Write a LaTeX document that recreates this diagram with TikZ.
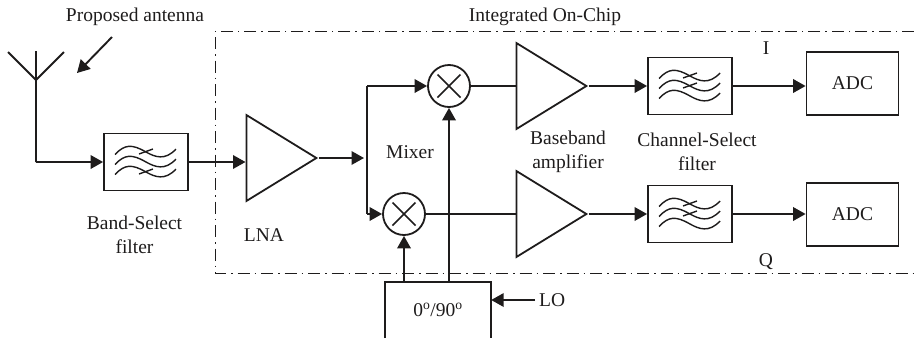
\documentclass[tikz,border=0pt]{standalone}
\usepackage{fontspec}
\setmainfont{Liberation Serif}
\usepackage{xcolor}
\usetikzlibrary{arrows.meta,shapes.geometric}
\definecolor{inkcol}{HTML}{1E1C1C}
\tikzset{
    labeltext/.style={align=center, font=\fontsize{19.5}{24}\selectfont, text=inkcol, inner sep=0pt},
    boxnode/.style={draw=inkcol, line width=1.8pt, labeltext, minimum width=#1, inner sep=0pt},
    filternode/.style={boxnode=84pt, minimum height=57pt},
    adcnode/.style={boxnode=92pt, minimum height=63pt},
    ampnode/.style={draw=inkcol, line width=1.8pt, isosceles triangle, isosceles triangle stretches, shape border rotate=0, minimum width=#1, minimum height=70pt, inner sep=0pt, anchor=lower side},
    mixnode/.style={draw=inkcol, line width=1.8pt, circle, minimum size=42pt, inner sep=0pt,
        path picture={\draw[line width=1.5pt, inkcol] ([shift={(-11.5pt,-11.5pt)}]path picture bounding box.center) -- ([shift={(11.5pt,11.5pt)}]path picture bounding box.center)
            ([shift={(-11.5pt,11.5pt)}]path picture bounding box.center) -- ([shift={(11.5pt,-11.5pt)}]path picture bounding box.center);}},
    sigline/.style={draw=inkcol, line width=1.9pt},
    sigarrow/.style={sigline, -{Triangle[length=12.5pt,width=13.5pt]}},
    chipline/.style={draw=inkcol, line width=0.8pt, dash pattern=on 12pt off 5pt on 1.5pt off 5pt}
}
% three waves of a filter box, with ticks on the waves given in #2
\newcommand{\filterwaves}[2]{
    \begin{scope}[shift={(#1.center)}, draw=inkcol, line width=1.4pt]
        \foreach \yoff in {0,10,20} {
            \draw[yshift=-\yoff pt] (-31,-7.5) .. controls (-21,-18) and (-14,-18) .. (0,-10) .. controls (9,-5) and (19,-1) .. (30,-13);
        }
        \foreach \yoff in {#2} {
            \draw[yshift=-\yoff pt] (-7,-8) -- (7,-13);
        }
    \end{scope}
}

\begin{document}
\begin{tikzpicture}[x=1pt, y=-1pt]
    \useasboundingbox (0,0) rectangle (914,338);
    % on-chip region
    \draw[chipline] (914,31) -- (215,31) -- (215,273) -- (914,273);
    % antenna
    \coordinate (antbase) at (36,80);
    \coordinate (anttop) at (36,51);
    \coordinate (antleft) at (8,52);
    \coordinate (antright) at (64,52);
    \coordinate (antcorner) at (36,162);
    \coordinate (pointfrom) at (112,37);
    \coordinate (pointto) at (77,73);
    \node[filternode] (bsf) at (146,162) {};
    \node[ampnode=86pt] (lna) at (245.5,158) {};
    \coordinate (split) at (367,158);
    \node[mixnode] (mixi) at (449,86) {};
    \node[mixnode] (mixq) at (404,214) {};
    \node[ampnode=86pt] (ampi) at (515.5,86) {};
    \node[ampnode=86pt] (ampq) at (515.5,214) {};
    \node[filternode] (csfi) at (690,86) {};
    \node[filternode] (csfq) at (690,214) {};
    \node[adcnode] (adci) at (852.5,83.5) {ADC};
    \node[adcnode] (adcq) at (852.5,214.5) {ADC};
    \node[labeltext, minimum width=106pt, minimum height=56pt] (phase) at (438,310) {0\textsuperscript{o}/90\textsuperscript{o}};
    \node[labeltext, anchor=west] (lo) at (539,300) {LO};
    \filterwaves{bsf}{0,20}
    \filterwaves{csfi}{0,10}
    \filterwaves{csfq}{0,10}
    % connectors
    \draw[sigline] (antleft) -- (antbase) -- (antright) (anttop) -- (antbase) -- (antcorner);
    \draw[sigarrow] (antcorner) -- (bsf.west);
    \draw[sigarrow] (pointfrom) -- (pointto);
    \draw[sigarrow] (bsf.east) -- (bsf.east -| lna.lower side);
    \draw[sigarrow] (lna.apex) -- ([xshift=-3pt]split);
    \draw[sigarrow] (split |- mixq.west) -- (mixq.west);
    \draw[sigarrow] (split |- mixi.west) -- (mixi.west);
    \draw[sigline] (split |- mixi.west) -- (split |- mixq.west);
    \draw[sigline] (mixi.east) -- (ampi.lower side);
    \draw[sigline] (mixq.east) -- (ampq.lower side);
    \draw[sigarrow] (ampi.apex) -- (csfi.west);
    \draw[sigarrow] (ampq.apex) -- (csfq.west);
    \draw[sigarrow] (csfi.east) -- (csfi.east -| adci.west);
    \draw[sigarrow] (csfq.east) -- (csfq.east -| adcq.west);
    \draw[sigarrow] (mixi.south |- phase.north) -- (mixi.south);
    \draw[sigarrow] (mixq.south |- phase.north) -- (mixq.south);
    \draw[sigarrow] (lo.west |- 0,300) ++(-4,0) -- (phase.east |- 0,300);
    \draw[sigline] (phase.south west) -- (phase.north west) -- (phase.north east) -- (phase.south east);
    % labels
    \node[labeltext] (anttext) at (135,17) {Proposed antenna};
    \node[labeltext] (chiptext) at (545,17) {Integrated On-Chip};
    \node[labeltext] (bsftext) at (134.5,235) {Band-Select\\filter};
    \node[labeltext] (lnatext) at (264,235) {LNA};
    \node[labeltext] (mixtext) at (410,152) {Mixer};
    \node[labeltext] (amptext) at (568,151.5) {Baseband\\amplifier};
    \node[labeltext] (csftext) at (697,151.5) {Channel-Select\\filter};
    \node[labeltext] (itext) at (766,48) {I};
    \node[labeltext] (qtext) at (766,262) {Q};
\end{tikzpicture}
\end{document}
